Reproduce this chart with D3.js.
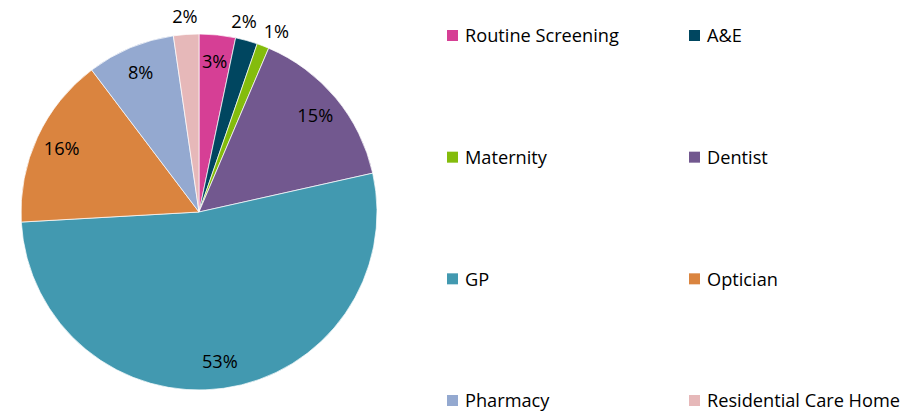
<!DOCTYPE html>
<html>
<head>
<meta charset="utf-8">
<script src="https://cdn.jsdelivr.net/npm/d3@7"></script>
<style>
body{margin:0;background:#fff;}
svg{display:block;font-family:"Open Sans",Lato,sans-serif;}
</style>
</head>
<body>
<script>
// data
const categories=["Routine Screening","A&E","Maternity","Dentist","GP","Optician","Pharmacy","Residential Care Home"];
const values=[3.3,2.0,1.1,15.1,52.6,15.6,8.0,2.3];
const colors=["#D63F95","#004660","#84BC0C","#72588F","#4299B0","#DA843F","#94A9D0","#E6B8B9"];

const w=924,h=415;
const cx=199,cy=212,r=178;
const fs=18.2;

const svg=d3.select("body").append("svg").attr("width",w).attr("height",h);

const total=d3.sum(values);
const pie=d3.pie().sort(null).value(d=>d.v);
const arcs=pie(categories.map((c,i)=>({c:c,v:values[i],col:colors[i]})));

const arc=d3.arc().innerRadius(0).outerRadius(r);
const inLab=d3.arc().innerRadius(r*0.85).outerRadius(r*0.85);

const g=svg.append("g").attr("transform","translate("+cx+","+cy+")");
g.selectAll("path").data(arcs).enter().append("path")
  .attr("d",arc)
  .attr("fill",d=>d.data.col)
  .attr("stroke","#fff")
  .attr("stroke-width",0.7);

// small slices get their label outside, spread so they don't collide
const outs=arcs.filter(d=>d.data.v/total<0.025);
outs.forEach(d=>{d.la=(d.startAngle+d.endAngle)/2;});
const minGap=10*Math.PI/180;
for(let k=0;k<20;k++){
  for(let i=1;i<outs.length;i++){
    const a=outs[i-1],b=outs[i];
    if(b.la-a.la<minGap && b.la-a.la>0){
      const m=(a.la+b.la)/2;
      a.la=m-minGap/2;b.la=m+minGap/2;
    }
  }
}
const outR=r+18;

g.selectAll("text").data(arcs).enter().append("text")
  .attr("transform",d=>{
    let p;
    if(d.data.v/total<0.025){
      p=[Math.sin(d.la)*outR,-Math.cos(d.la)*outR];
    } else p=inLab.centroid(d);
    return "translate("+p[0]+","+p[1]+")";
  })
  .attr("text-anchor","middle")
  .attr("dy","0.35em")
  .attr("font-size",fs)
  .attr("fill","#000")
  .text(d=>Math.round(d.data.v/total*100)+"%");

//legend
const legX=[447,689];
const rowY=d3.scaleLinear().domain([0,3]).range([36,401]);
const leg=svg.selectAll(".leg").data(categories).enter().append("g")
  .attr("class","leg")
  .attr("transform",(d,i)=>"translate("+legX[i%2]+","+rowY(Math.floor(i/2))+")");
leg.append("rect").attr("x",0).attr("y",-6).attr("width",11).attr("height",11)
  .attr("fill",(d,i)=>colors[i]);
leg.append("text").attr("x",18).attr("dy","0.35em").attr("font-size",fs)
  .attr("fill","#000").text(d=>d);
</script>
</body>
</html>
